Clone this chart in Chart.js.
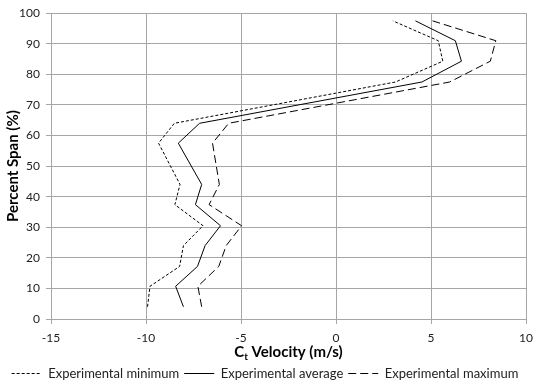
<!DOCTYPE html>
<html>
<head>
<meta charset="utf-8">
<script src="https://cdn.jsdelivr.net/npm/chart.js@4.4.1/dist/chart.umd.min.js"></script>
<style>
  html, body { margin: 0; background: #fff; }
  #wrap { width: 540px; height: 390px; }
</style>
</head>
<body>
<div id="wrap"><canvas id="chart"></canvas></div>
<script>
// span positions (%) shared by all three traverses
const spanPct = [4.0, 10.7, 17.2, 24.0, 30.5, 37.4, 44.0, 57.5, 64.0, 77.5, 84.3, 91.0, 97.5];
// tangential velocity, m/s
const velMin = [-9.92, -9.79, -8.23, -8.03, -7.0, -8.48, -8.21, -9.34, -8.51, 3.13, 5.62, 5.38, 2.99];
const velAvg = [-8.03, -8.44, -7.29, -6.89, -6.08, -7.4, -7.07, -8.3, -7.18, 4.52, 6.6, 6.28, 4.18];
const velMax = [-7.07, -7.27, -6.17, -5.78, -4.97, -6.68, -6.14, -6.5, -5.65, 5.98, 8.12, 8.41, 5.08];

const xTicks = [-15, -10, -5, 0, 5, 10];
const yTicks = [0, 10, 20, 30, 40, 50, 60, 70, 80, 90, 100];

const FONT = "Lato, 'Liberation Sans', sans-serif";
const GRID = "#a6a6a6";
const PLOT_BOTTOM = 319;

const toPoints = (vals) => vals.map((v, i) => ({ x: v, y: spanPct[i] }));

const series = (label, vals, dash) => ({
  label,
  data: toPoints(vals),
  showLine: true,
  borderColor: "#000",
  backgroundColor: "#000",
  borderWidth: 1,
  borderDash: dash,
  pointRadius: 0,
  fill: false,
});

// legend entries drawn as short line samples carrying each dataset's dash
function legendLabels(chart) {
  const base = Chart.defaults.plugins.legend.labels.generateLabels(chart);
  return base.map((item) => {
    const ds = chart.data.datasets[item.datasetIndex];
    return { ...item, pointStyle: "line", lineDash: ds.borderDash, lineWidth: 1, strokeStyle: "#000" };
  });
}

// x-axis title with subscript "t"
const xTitle = {
  id: "xTitle",
  afterDraw(chart) {
    const { ctx, chartArea } = chart;
    const main = "bold 15px " + FONT;
    const sub = "bold 10px " + FONT;
    const rest = " Velocity (m/s)";
    ctx.save();
    ctx.fillStyle = "#000";
    ctx.textBaseline = "alphabetic";
    ctx.font = main;
    const wC = ctx.measureText("C").width;
    const wRest = ctx.measureText(rest).width;
    ctx.font = sub;
    const wT = ctx.measureText("t").width;
    const total = wC + wT + wRest;
    const cx = (chartArea.left + chartArea.right) / 2;
    let x = cx - total / 2;
    const y = chartArea.bottom + 38;
    ctx.font = main;
    ctx.fillText("C", x, y);
    x += wC;
    ctx.font = sub;
    ctx.fillText("t", x, y + 3);
    x += wT;
    ctx.font = main;
    ctx.fillText(rest, x, y);
    ctx.restore();
  },
};

new Chart(document.getElementById("chart"), {
  type: "scatter",
  data: {
    datasets: [
      series("Experimental minimum", velMin, [3, 2]),
      series("Experimental average", velAvg, []),
      series("Experimental maximum", velMax, [8, 4]),
    ],
  },
  options: {
    responsive: true,
    maintainAspectRatio: false,
    animation: false,
    layout: { padding: { left: 0, right: 10, top: 10, bottom: 0 } },
    plugins: {
      tooltip: { enabled: false },
      legend: {
        position: "bottom",
        labels: {
          color: "#222",
          usePointStyle: true,
          pointStyleWidth: 30,
          boxHeight: 8,
          padding: 5,
          font: { family: FONT, size: 13 },
          generateLabels: legendLabels,
        },
      },
    },
    scales: {
      x: {
        type: "linear",
        min: -15,
        max: 10,
        afterBuildTicks: (s) => { s.ticks = xTicks.map((v) => ({ value: v })); },
        afterFit: (s) => {
          const legendH = s.chart.legend ? s.chart.legend.height : 0;
          s.height = s.chart.height - PLOT_BOTTOM - legendH;
        },
        ticks: { color: "#222", font: { family: FONT, size: 12 }, padding: 7 },
        grid: { color: GRID, lineWidth: 1, tickLength: 5 },
        border: { color: GRID },
      },
      y: {
        type: "linear",
        min: 0,
        max: 100,
        afterBuildTicks: (s) => { s.ticks = yTicks.map((v) => ({ value: v })); },
        afterFit: (s) => { s.width = 51; },
        ticks: { color: "#222", font: { family: FONT, size: 12 }, padding: 6 },
        grid: { color: GRID, lineWidth: 1, tickLength: 5 },
        border: { color: GRID },
        title: {
          display: true,
          text: "Percent Span (%)",
          color: "#000",
          padding: { top: 4 },
          font: { family: FONT, size: 15, weight: "bold" },
        },
      },
    },
  },
  plugins: [xTitle],
});
</script>
</body>
</html>
